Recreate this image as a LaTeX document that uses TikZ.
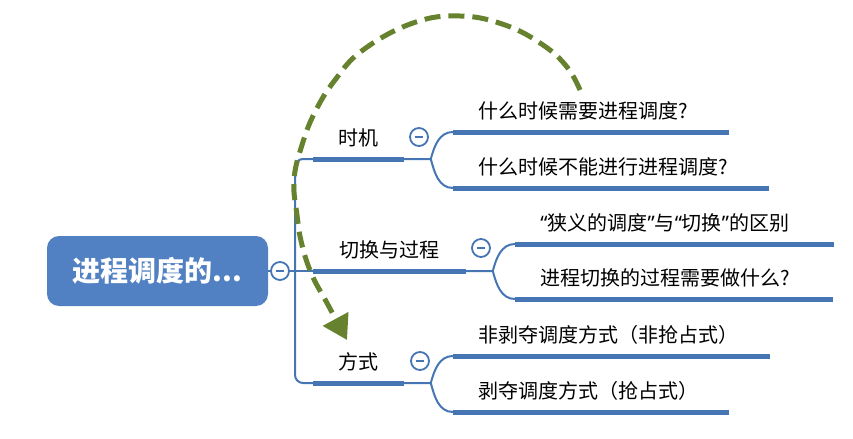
\documentclass[tikz,border=0pt]{standalone}
\usepackage{fontspec}
\setmainfont{Noto Sans CJK SC}
\newfontfamily\latinfont{Noto Sans}
\newcommand{\openq}{{\latinfont “}}
\newcommand{\closeq}{{\latinfont ”}}
\usetikzlibrary{arrows.meta, positioning, calc}
\definecolor{mapblue}{RGB}{70,117,180}
\definecolor{rootblue}{RGB}{82,129,195}
\definecolor{flowgreen}{RGB}{102,130,46}
\tikzset{
  root/.style={rectangle, rounded corners=6pt, fill=rootblue, text=white,
    font=\fontsize{14}{16}\selectfont\bfseries, minimum width=110.5pt, minimum height=35pt},
  topic/.style={font=\fontsize{10}{12}\selectfont, inner ysep=0pt, text depth=6.4pt, anchor=south west},
  branch/.style={topic, minimum width=#1, inner xsep=0pt},
  leaf/.style={topic, text width=#1, align=left, inner xsep=12.5pt},
  bar/.style={mapblue, line width=2.5pt},
  link/.style={mapblue, line width=1pt},
  fold/.style={circle, draw=mapblue, line width=0.9pt, fill=white, minimum size=9pt, inner sep=0pt,
    path picture={\draw[mapblue, line width=0.8pt] ([xshift=-2.2pt]path picture bounding box.center)
      -- ([xshift=2.2pt]path picture bounding box.center);}},
  flow/.style={flowgreen, line width=2.5pt, dash pattern=on 8pt off 4pt,
    -{Triangle[length=12pt,width=14pt]}}
}

\begin{document}
\begin{tikzpicture}[x=0.5pt, y=-0.5pt]
    \useasboundingbox (0,0) rectangle (853,439);

    % Root
    \node[root] (root) at (157.5,271) {进程调度的...};
    \node[fold] (rootbtn) at (280,271) {};
    \coordinate (trunk) at (295,271);

    % Main branches
    \node[branch=45pt] (timing) at (313,159) {时机};
    \node[branch=76pt] (switch) at (313,271) {切换与过程};
    \node[branch=45pt] (mode) at (313,383) {方式};
    \node[fold] (timingbtn) at (419,137) {};
    \node[fold] (switchbtn) at (481,248) {};
    \node[fold] (modebtn) at (420,361) {};

    % Leaves
    \node[leaf=112.5pt] (t1) at (453,132) {什么时候需要进程调度?};
    \node[leaf=132.5pt] (t2) at (453,188) {什么时候不能进行进程调度?};
    \node[leaf=134pt] (s1) at (515,244) {\openq 狭义的调度\closeq 与\openq 切换\closeq 的区别};
    \node[leaf=133.5pt] (s2) at (515,299) {进程切换的过程需要做什么?};
    \node[leaf=133pt] (m1) at (453,356) {非剥夺调度方式（非抢占式）};
    \node[leaf=112.5pt] (m2) at (453,412) {剥夺调度方式（抢占式）};

    % Underlines
    \foreach \n in {timing,switch,mode,t1,t2,s1,s2,m1,m2}
        \draw[bar] (\n.south west) -- (\n.south east);

    % Links
    \draw[link] (root.east) -- (rootbtn.west);
    \draw[link] (rootbtn.east) -- (switch.south west);
    \draw[link, rounded corners=4pt] (timing.south west) -| (trunk) |- (mode.south west);
    \foreach \p/\a/\b in {timing/t1/t2, switch/s1/s2, mode/m1/m2}
        \draw[link] (\p.south east) -- ++(13.5pt,0) coordinate (fork)
            to[out=75,in=180] (\a.south west)
            (fork) to[out=-75,in=180] (\b.south west);

    % Dashed arc
    \draw[flow] plot[smooth, tension=0.7] coordinates {
        (580,90) (567,67) (543,45) (505,25) (460,16) (413,23) (363,50) (335,80)
        (315,112) (302,145) (294,180) (297,215) (302,245) (312,275) (327,303) (347,340)};
\end{tikzpicture}
\end{document}
